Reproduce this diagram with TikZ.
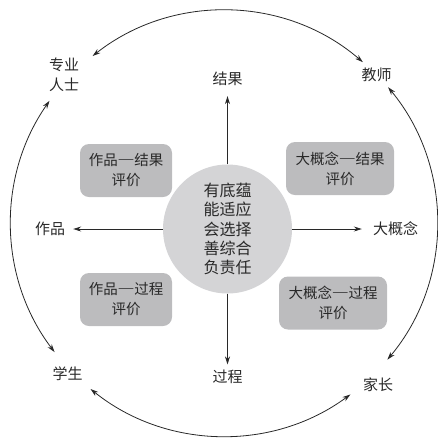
\documentclass[tikz,border=0pt]{standalone}
\usepackage{fontspec}
\newfontfamily\cjk{Noto Sans CJK SC}
\newfontfamily\latinf{Liberation Serif}
\newcommand{\longdash}{\kern1pt\raisebox{2pt}{\latinf —}\kern1pt}
\usetikzlibrary{arrows.meta}
\definecolor{boxgray}{RGB}{188,188,190}
\definecolor{circgray}{RGB}{212,212,214}
\definecolor{ink}{RGB}{40,40,40}
\begin{document}
\begin{tikzpicture}[x=1pt,y=1pt,
  lab/.style={font=\cjk\fontsize{15}{20}\selectfont, text=ink, inner sep=0pt, align=center},
  evalbox/.style={fill=boxgray, rounded corners=9pt, minimum height=53pt, align=center, font=\cjk\fontsize{14.5}{20}\selectfont, text=ink, inner sep=0pt},
  core/.style={circle, fill=circgray, minimum size=129pt, inner sep=0pt, align=center, font=\cjk\fontsize{16}{19.3}\selectfont, text=ink},
  arr/.style={draw=ink, line width=0.8pt, -{Stealth[length=8pt,width=5pt]}},
  dbl/.style={draw=ink, line width=0.8pt, {Stealth[length=8pt,width=5pt]}-{Stealth[length=8pt,width=5pt]}}
]
\useasboundingbox (0,0) rectangle (438,-437);
\node[core] (c) at (227.5,-229) {有底蕴\\能适应\\会选择\\善综合\\负责任};
% axis labels
\node[lab] (res) at (227.5,-79) {结果};
\node[lab] (proc) at (227.5,-377) {过程};
\node[lab] (work) at (50,-229) {作品};
\node[lab] (idea) at (395.5,-229) {大概念};
% outer labels
\node[lab] (pro) at (64,-75) {专业\\人士};
\node[lab] (tea) at (376.5,-74.5) {教师};
\node[lab] (stu) at (67.5,-374) {学生};
\node[lab] (par) at (378,-384.5) {家长};
% boxes
\node[evalbox, minimum width=92pt] (b1) at (126,-170.5) {作品\longdash 结果\\评价};
\node[evalbox, minimum width=108pt] (b2) at (340,-168.5) {大概念\longdash 结果\\评价};
\node[evalbox, minimum width=92pt] (b3) at (126,-299.5) {作品\longdash 过程\\评价};
\node[evalbox, minimum width=108pt] (b4) at (333,-303) {大概念\longdash 过程\\评价};
% axis arrows
\draw[arr, shorten >=10pt] (c) -- (res);
\draw[arr, shorten >=5.5pt] (c) -- (proc);
\draw[arr, shorten >=8pt] (c) -- (work);
\draw[arr, shorten >=11pt] (c) -- (idea);
% outer arcs
\coordinate (O) at (224,-223);
\draw[dbl] ([shift={(49.2:212.5pt)}]O) arc[start angle=49.2, end angle=128.2, radius=212.5pt];
\draw[dbl] ([shift={(-39.9:213pt)}]O) arc[start angle=-39.9, end angle=39.6, radius=213pt];
\draw[dbl] ([shift={(231.2:213pt)}]O) arc[start angle=231.2, end angle=306.4, radius=213pt];
\draw[dbl] ([shift={(145:213pt)}]O) arc[start angle=145, end angle=217.3, radius=213pt];
\end{tikzpicture}
\end{document}
